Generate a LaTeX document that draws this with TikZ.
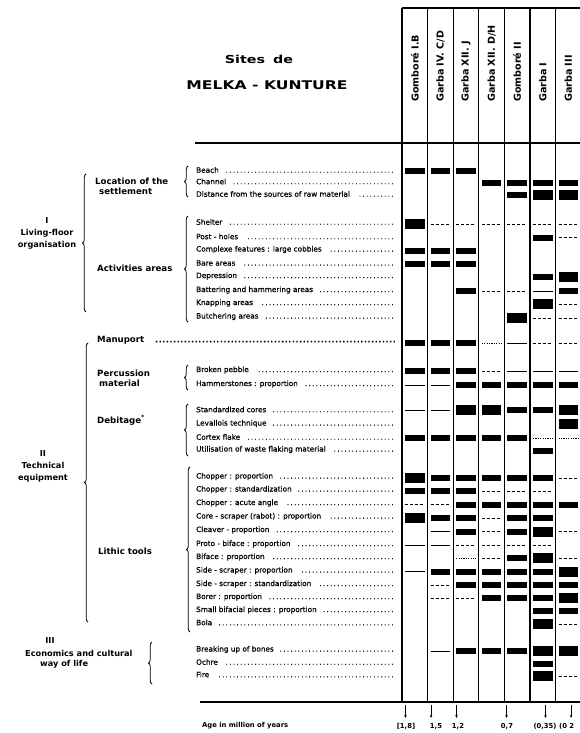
\documentclass[tikz,border=0pt]{standalone}
\usepackage{fontspec}
\setmainfont{DejaVu Sans}
\newfontfamily\titlefont[FakeStretch=1.3]{DejaVu Sans}
\newfontfamily\rowfont[FakeBold=0.6]{DejaVu Sans}
\usetikzlibrary{decorations.pathreplacing,arrows.meta}
\newcommand\lead{\leaders\hbox to 3.6pt{\hss.\hss}\hfill}
\tikzset{
 rowlab/.style={anchor=west, inner sep=0pt, font=\rowfont\fontsize{7.3}{8}\selectfont},
 catlab/.style={anchor=west, inner sep=0pt, font=\bfseries\fontsize{8.6}{9.8}\selectfont, align=left},
 grplab/.style={inner sep=0pt, font=\bfseries\fontsize{8.2}{12}\selectfont, align=center},
 colhead/.style={rotate=90, anchor=west, inner sep=0pt, font=\bfseries\fontsize{9.6}{10}\selectfont},
 gridln/.style={line width=1.1pt},
 brc/.style={decorate, decoration={brace, amplitude=3.5pt}, line width=0.8pt},
 ln/.style={line width=0.8pt},
 dsh/.style={line width=0.8pt, dash pattern=on 3pt off 2pt},
 dtt/.style={line width=0.7pt, dash pattern=on 1.2pt off 1.2pt},
 agelab/.style={font=\bfseries\fontsize{6.8}{8}\selectfont, inner sep=0pt},
 tick/.style={line width=0.7pt, -{Stealth[length=3pt,width=2.5pt]}},
}
\begin{document}
\begin{tikzpicture}[x=1pt,y=-1pt]
\useasboundingbox (0,0) rectangle (580,733);
% title
\node[font=\titlefont\bfseries\fontsize{11}{12}\selectfont] (t1) at (259,59) {Sites\hspace{8pt}de};
\node[font=\titlefont\bfseries\fontsize{12}{13}\selectfont] (t2) at (267,85) {MELKA - KUNTURE};
% grid
\foreach \i in {0,...,6} \draw[gridln] (402+25.6*\i,8) -- (402+25.6*\i,702);
\draw[gridln] (402,8) -- (580,8);
\draw[gridln] (195,143) -- (580,143);
\draw[gridln] (200,702) -- (580,702);
% column heads
\foreach \n/\t in {1/{Gomboré I.B},2/{Garba IV. C/D},3/{Garba XII. J},4/{Garba XII. D/H},5/{Gomboré II},6/{Garba I},7/{Garba III}}
  \node[colhead] (h\n) at (389.2+25.6*\n,102) {\t};
% group labels
\node[grplab] (g1) at (47,233.5) {I\\Living-floor\\organisation};
\node[grplab] (g2) at (43,466) {II\\Technical\\equipment};
\node[grplab,anchor=center] (g3a) at (50,641) {III};
\node[grplab,anchor=west] (g3b) at (25,653) {Economics and cultural};
\node[grplab,anchor=west] (g3c) at (40,664) {way of life};
% category labels
\node[catlab] (c1) at (95,186) {Location of the\\\hspace{4pt}settlement};
\node[catlab] (c2) at (97,268) {Activities areas};
\node[catlab] (c3) at (97,340) {\makebox[300pt][l]{Manuport\hspace{8pt}{\rowfont\fontsize{7.3}{8}\selectfont\lead}}};
\node[catlab] (c4) at (97,378) {Percussion\\\hspace{2pt}material};
\node[catlab] (c5) at (97,420) {Debitage\textsuperscript{*}};
\node[catlab] (c6) at (98,551) {Lithic tools};
% braces
\draw[brc] (86,312) -- (86,174);
\draw[brc] (88,622) -- (88,343);
\draw[brc] (188,197) -- (188,166);
\draw[brc] (188,322) -- (188,216);
\draw[brc] (188,390) -- (188,365);
\draw[brc] (188,456) -- (188,404);
\draw[brc] (190,632) -- (190,467);
\draw[brc] (152,684) -- (152,642);
% row labels
\foreach \k/\y/\t in {
 1/170/Beach, 2/181.5/Channel, 3/194/{Distance from the sources of raw material},
 4/222/Shelter, 5/236.5/{Post - holes}, 6/249.5/{Complexe features : large cobbles}, 7/263/{Bare areas},
 8/276/Depression, 9/290/{Battering and hammering areas}, 10/303/{Knapping areas}, 11/316.5/{Butchering areas},
 12/370/{Broken pebble}, 13/384/{Hammerstones : proportion},
 14/409.5/{Standardized cores}, 15/423.5/{Levallois technique}, 16/437/{Cortex flake}, 17/449.5/{Utilisation of waste flaking material},
 18/476.5/{Chopper : proportion}, 19/489.5/{Chopper : standardization}, 20/503/{Chopper : acute angle},
 21/516.5/{Core - scraper (rabot) : proportion}, 22/530/{Cleaver - proportion}, 23/544/{Proto - biface : proportion},
 24/557/{Biface : proportion}, 25/570.5/{Side - scraper : proportion}, 26/584/{Side - scraper : standardization},
 27/597/{Borer : proportion}, 28/610/{Small bifacial pieces : proportion}, 29/622.5/Bola,
 30/649.5/{Breaking up of bones}, 31/662/Ochre, 32/674.5/Fire}
  \node[rowlab] (r\k) at (196,\y) {\makebox[201pt][l]{\t\hspace{5pt}\lead}};
% thick bars
\foreach \c/\y [evaluate=\c as \xl using 379.4+25.6*\c] in {
 1/171,2/171,3/171, 4/182.5,5/182.5,6/182.5,7/182.5, 5/195, 6/237.5,
 1/250.5,2/250.5,3/250.5, 1/264,2/264,3/264, 6/277, 3/291,7/291,
 1/343,2/343,3/343, 1/371,2/371,3/371, 3/385,4/385,5/385,6/385,7/385,
 5/410,6/410, 1/438,2/438,3/438,4/438,5/438, 6/451,
 2/478,3/478,4/478,5/478,6/478, 1/491,2/491,3/491,
 3/504.5,4/504.5,5/504.5,6/504.5,7/504.5, 2/518,3/518,5/518,6/518,
 3/531.5,5/531.5, 5/558, 2/571.5,3/571.5,4/571.5,5/571.5,6/571.5,
 3/585,4/585,5/585,6/585,7/585, 4/598,5/598,6/598, 6/611,7/611,
 3/651,4/651,5/651, 6/663.5}
  \fill (\xl,\y-3) rectangle ++(19.6,6);
% big bars
\foreach \c/\y [evaluate=\c as \xl using 379.4+25.6*\c] in {
 6/195,7/195, 1/224, 7/277, 6/304, 5/318, 3/410,4/410,7/410, 7/424,
 1/478, 1/518, 6/531.5, 6/558, 7/571.5, 7/598, 6/624, 6/651,7/651, 6/676}
  \fill (\xl,\y-5) rectangle ++(19.6,10);
% thin lines
\foreach \c/\y [evaluate=\c as \xl using 379.4+25.6*\c] in {
 6/291, 5/343, 5/371,6/371,7/371, 1/385,2/385, 1/410,2/410, 2/531.5,
 1/545,2/545, 1/571.5, 2/651}
  \draw[ln] (\xl,\y) -- ++(19.6,0);
% dashed lines
\foreach \c/\y [evaluate=\c as \xl using 379.4+25.6*\c] in {
 2/224,3/224,4/224,5/224,6/224,7/224, 7/237.5, 4/291,5/291, 7/304, 6/318,7/318,
 6/343,7/343, 4/371, 7/478, 4/491,5/491,6/491, 1/504.5,2/504.5, 4/518,
 4/531.5,7/531.5, 3/545,4/545,5/545,6/545, 4/558,7/558, 2/585, 2/598,3/598,
 7/624, 7/676}
  \draw[dsh] (\xl,\y) -- ++(19.6,0);
% dotted lines
\foreach \c/\y [evaluate=\c as \xl using 379.4+25.6*\c] in {4/343, 6/438,7/438, 3/558}
  \draw[dtt] (\xl,\y) -- ++(19.6,0);
% age axis
\node[agelab,anchor=west] (age) at (202,726) {Age in million of years};
\foreach \k/\x/\lx/\t in {1/405.5/406/{[1,8]},2/431/436/{1,5},3/456.5/458/{1,2},4/506.5/507/{0,7},5/545.5/545/{(0,35)}}{
  \coordinate (k\k) at (\x,705);
  \node[agelab] (a\k) at (\lx,726) {\t};
  \draw[tick] (k\k) -- ++(0,13);
}
\coordinate (k6) at (571,705);
\node[agelab,anchor=west] (a6) at (559,726) {(0 2};
\draw[tick] (k6) -- ++(0,13);
\end{tikzpicture}
\end{document}
